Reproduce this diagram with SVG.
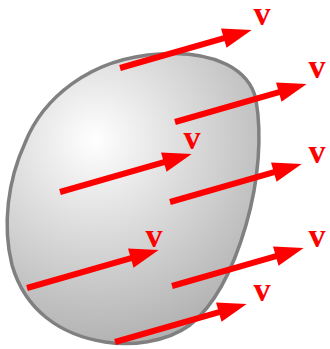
<svg xmlns="http://www.w3.org/2000/svg" width="330" height="349" viewBox="0 0 330 349">
<defs>
<radialGradient id="g" gradientUnits="userSpaceOnUse" cx="95" cy="140" r="230">
<stop offset="0" stop-color="#ffffff"/>
<stop offset="0.35" stop-color="#e0e0e0"/>
<stop offset="1" stop-color="#a9a9a9"/>
</radialGradient>
<g id="arrow">
<line x1="0" y1="0" x2="112" y2="0" stroke="#ff0000" stroke-width="6"/>
<polygon points="137,0 108,-10 108,10" fill="#ff0000"/>
</g>
</defs>
<style>
.lbl{font-family:"Liberation Serif",serif;font-weight:bold;font-size:34px;fill:#ff0000;text-anchor:middle}
</style>
<g id="blob">
<path d="M160,54 C215,50 250,70 256,100 C262,135 259,180 246,225 C233,270 215,305 190,325 C165,343 130,346 105,342 C60,335 25,310 12,265 C2,225 8,180 25,143 C42,100 88,58 160,54 Z" fill="url(#g)" stroke="#808080" stroke-width="3.5"/>
</g>
<g id="connectors">
<use href="#arrow" transform="translate(120,68) rotate(-16.06)"/>
<use href="#arrow" transform="translate(175,122) rotate(-16.06)"/>
<use href="#arrow" transform="translate(60,192) rotate(-16.06)"/>
<use href="#arrow" transform="translate(170,202) rotate(-16.06)"/>
<use href="#arrow" transform="translate(27,288) rotate(-16.06)"/>
<use href="#arrow" transform="translate(172,286) rotate(-16.06)"/>
<use href="#arrow" transform="translate(115,342) rotate(-16.06)"/>
</g>
<g id="labels">
<text class="lbl" x="262" y="25">v</text>
<text class="lbl" x="317" y="78">v</text>
<text class="lbl" x="192" y="149">v</text>
<text class="lbl" x="317" y="163">v</text>
<text class="lbl" x="154" y="247">v</text>
<text class="lbl" x="317" y="247">v</text>
<text class="lbl" x="262" y="301">v</text>
</g>
</svg>
